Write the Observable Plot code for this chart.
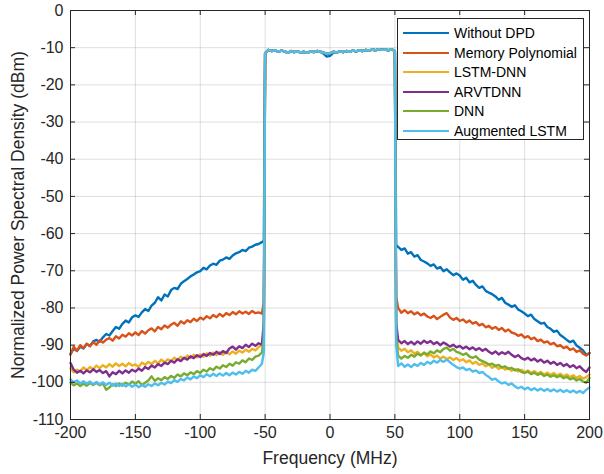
<!DOCTYPE html>
<html>
<head>
<meta charset="utf-8">
<script src="https://cdn.jsdelivr.net/npm/d3@7"></script>
<script src="https://cdn.jsdelivr.net/npm/@observablehq/plot@0.6"></script>
<style>
  body { margin: 0; background: #fff; }
  #wrap { position: relative; width: 604px; height: 474px; font-family: "Liberation Sans", Arial, Helvetica, sans-serif; }
  #legend { position: absolute; left: 397px; top: 18px; width: 187px; height: 122px; background: #fff; border: 1px solid #262626; box-sizing: border-box; }
  .row { position: absolute; left: 0; height: 20px; display: flex; align-items: center; font-size: 14px; color: #000; white-space: nowrap; }
  .swatch { display: inline-block; width: 46px; height: 2px; margin-left: 5px; margin-right: 5px; }
</style>
</head>
<body>
<div id="wrap"><div id="chart"></div><div id="legend"></div></div>
<script>
// ---- Data ----
const seriesNames = ["Without DPD", "Memory Polynomial", "LSTM-DNN", "ARVTDNN", "DNN", "Augmented LSTM"];
const seriesColors = ["#0072BD", "#D95319", "#EDB120", "#7E2F8E", "#77AC30", "#4DBEEE"];
const xTicks = [-200, -150, -100, -50, 0, 50, 100, 150, 200];
const yTicks = [0, -10, -20, -30, -40, -50, -60, -70, -80, -90, -100, -110];

// Sampling: left band -200..-52.5 (step 2.5), edge at -51, in-band -50..50 (step 2.5), edge at 51, right band 52.5..200 (step 2.5)
const leftStart = -200, bandStart = -50, rightStart = 52.5, step = 2.5, edgeLeftF = -51, edgeRightF = 51;

// shared in-band level (all curves overlap here)
const inBand = [-11.5,-10.6,-10.9,-10.7,-11.1,-10.8,-11.0,-11.4,-10.9,-11.2,-11.0,-11.3,-11.1,-11.4,-11.0,-11.2,-10.9,-11.1,-11.3,-11.6,-11.5,-11.1,-11.3,-11.0,-11.2,-10.9,-11.1,-10.8,-11.0,-10.7,-10.9,-10.6,-10.8,-10.5,-10.7,-10.4,-10.6,-10.5,-10.7,-10.4,-10.9];
const inBandWithoutDPD = [-11.5,-10.6,-10.9,-10.7,-11.1,-10.8,-11.0,-11.4,-10.9,-11.2,-11.0,-11.3,-11.1,-11.4,-11.0,-11.2,-10.9,-11.1,-11.6,-12.4,-12.2,-11.4,-11.3,-11.0,-11.2,-10.9,-11.1,-10.8,-11.0,-10.7,-10.9,-10.6,-10.8,-10.5,-10.7,-10.4,-10.6,-10.5,-10.7,-10.4,-10.9];

const withoutDpdLeft = [-92.3,-91.0,-91.6,-90.4,-90.9,-89.7,-90.2,-89.0,-88.6,-89.1,-87.9,-87.0,-87.4,-86.2,-85.1,-85.6,-84.3,-83.4,-83.9,-82.5,-82.0,-82.4,-81.2,-80.3,-80.8,-79.4,-78.6,-77.1,-78.0,-76.4,-76.9,-75.2,-74.6,-74.9,-73.5,-72.8,-72.2,-71.5,-71.0,-70.4,-70.1,-69.2,-69.6,-68.6,-68.1,-68.4,-67.3,-67.0,-66.4,-66.8,-65.9,-65.3,-65.0,-64.4,-64.7,-63.8,-63.5,-63.0,-62.8,-62.3];
const withoutDpdRight = [-63.6,-64.4,-64.0,-65.4,-65.0,-66.2,-65.8,-67.1,-67.5,-68.0,-68.7,-68.3,-69.4,-69.0,-70.1,-69.6,-70.4,-71.2,-70.7,-71.3,-72.4,-71.9,-73.1,-72.7,-73.8,-74.6,-74.2,-75.4,-75.9,-76.3,-76.9,-77.8,-77.3,-78.6,-79.1,-79.7,-79.3,-80.4,-80.9,-81.5,-82.2,-81.8,-83.0,-83.6,-84.2,-84.0,-85.1,-85.6,-86.4,-86.1,-87.3,-87.9,-88.6,-89.2,-88.8,-90.1,-90.7,-91.4,-92.6,-92.1];
const withoutDpdEdges = [-62.0, -63.0];

const memPolyLeft = [-92.6,-90.4,-91.5,-90.0,-90.8,-89.6,-90.3,-89.2,-89.9,-88.7,-89.3,-88.5,-88.1,-88.8,-87.6,-88.2,-87.2,-87.7,-86.8,-87.4,-86.6,-87.3,-86.2,-86.9,-86.0,-85.5,-86.3,-85.1,-85.7,-84.7,-85.3,-84.5,-84.0,-84.8,-83.6,-84.2,-83.3,-83.8,-82.9,-83.5,-82.6,-83.1,-82.2,-82.8,-81.9,-82.5,-81.6,-82.3,-81.4,-81.9,-81.1,-81.7,-80.9,-81.5,-81.0,-81.6,-80.8,-81.4,-81.2,-81.5];
const memPolyRight = [-80.0,-81.3,-80.6,-81.4,-80.9,-81.7,-81.2,-82.0,-81.5,-82.3,-82.7,-82.1,-83.0,-82.4,-81.8,-81.4,-82.6,-83.2,-82.7,-83.5,-83.1,-83.9,-83.4,-84.2,-83.8,-84.7,-84.3,-85.2,-84.8,-85.6,-85.1,-85.9,-85.4,-86.3,-85.8,-86.6,-86.9,-87.5,-87.1,-88.0,-87.6,-88.4,-88.0,-88.9,-88.5,-89.3,-89.0,-89.8,-89.4,-90.3,-90.0,-90.8,-90.4,-91.3,-90.9,-91.8,-91.4,-92.3,-92.8,-92.2];
const memPolyEdges = [-78.5, -77.0];

const lstmDnnLeft = [-96.2,-97.3,-96.6,-97.1,-96.0,-96.7,-95.9,-96.5,-95.5,-96.2,-95.4,-96.0,-95.1,-95.8,-94.9,-95.6,-95.0,-95.7,-94.8,-95.5,-95.2,-95.9,-94.7,-95.3,-94.5,-95.1,-94.2,-94.9,-93.9,-94.6,-93.8,-94.3,-93.4,-94.0,-93.1,-93.7,-92.8,-93.5,-92.6,-93.3,-92.5,-93.1,-92.2,-92.9,-92.0,-92.7,-91.9,-92.6,-91.8,-92.5,-91.7,-92.3,-91.5,-92.0,-91.2,-91.8,-91.0,-91.4,-90.5,-90.0];
const lstmDnnRight = [-90.6,-91.5,-91.0,-91.9,-91.4,-92.3,-91.8,-92.6,-92.1,-93.0,-92.5,-93.3,-92.8,-93.6,-93.1,-93.8,-93.3,-94.0,-93.5,-94.2,-93.8,-94.6,-94.1,-95.0,-94.5,-95.3,-94.9,-95.7,-95.2,-96.1,-95.6,-96.4,-95.9,-96.6,-96.1,-96.9,-96.4,-97.1,-96.6,-97.3,-96.8,-97.5,-97.0,-97.7,-97.2,-97.9,-97.4,-98.0,-97.5,-98.2,-97.7,-98.4,-97.9,-98.6,-98.1,-98.8,-98.3,-99.0,-98.6,-97.9];
const lstmDnnEdges = [-87.0, -85.0];

const arvtdnnLeft = [-94.8,-96.6,-97.4,-96.9,-97.6,-96.8,-97.3,-96.5,-97.2,-96.7,-97.5,-97.0,-98.4,-97.3,-97.8,-96.9,-97.6,-96.8,-97.4,-96.6,-97.1,-96.3,-96.9,-95.9,-96.4,-95.5,-96.0,-95.1,-95.6,-94.7,-95.1,-94.2,-94.7,-93.8,-94.3,-93.4,-93.9,-93.0,-93.5,-92.7,-93.2,-92.4,-92.9,-92.1,-92.6,-91.8,-92.4,-91.6,-92.1,-90.9,-90.4,-91.2,-90.3,-90.8,-89.9,-90.5,-89.6,-90.2,-89.5,-89.9];
const arvtdnnRight = [-88.6,-89.5,-88.9,-89.7,-89.1,-89.8,-89.0,-89.6,-88.8,-89.4,-88.9,-89.7,-89.2,-90.0,-89.3,-89.8,-90.4,-89.9,-90.6,-90.2,-90.9,-90.4,-91.1,-90.6,-91.3,-90.8,-91.5,-91.0,-91.8,-92.3,-91.7,-92.5,-91.9,-92.4,-91.8,-92.6,-93.2,-92.7,-93.5,-93.9,-93.4,-94.1,-93.6,-94.4,-93.9,-94.7,-94.2,-95.0,-94.5,-95.3,-94.8,-95.6,-95.1,-95.9,-95.4,-96.2,-95.7,-96.6,-97.2,-96.0];
const arvtdnnEdges = [-84.0, -84.0];

const dnnLeft = [-100.0,-100.8,-100.3,-101.0,-100.4,-100.9,-100.2,-100.7,-100.1,-100.8,-100.3,-102.0,-101.4,-100.5,-101.0,-100.3,-100.9,-100.1,-100.6,-99.8,-100.4,-99.7,-100.8,-100.1,-99.5,-98.4,-99.6,-98.9,-99.4,-98.6,-99.1,-98.3,-98.8,-97.9,-98.4,-97.6,-98.1,-97.3,-97.8,-97.0,-97.5,-96.6,-97.1,-96.2,-96.7,-95.8,-96.3,-95.4,-95.9,-95.0,-95.5,-94.6,-95.0,-94.1,-94.6,-93.6,-94.0,-93.1,-92.8,-92.0];
const dnnRight = [-92.8,-93.6,-92.9,-93.4,-92.6,-93.1,-92.3,-92.8,-92.0,-92.5,-91.7,-92.2,-91.4,-91.9,-91.0,-90.7,-91.5,-91.0,-91.8,-92.1,-92.6,-92.2,-93.1,-93.4,-93.0,-93.9,-94.3,-94.7,-95.2,-95.0,-95.6,-95.3,-96.0,-95.7,-96.4,-96.1,-96.8,-96.5,-97.2,-97.5,-97.1,-97.8,-97.4,-98.0,-97.6,-98.3,-97.9,-98.5,-98.1,-98.6,-98.2,-98.9,-98.5,-99.2,-98.8,-99.5,-99.1,-99.8,-100.1,-98.8];
const dnnEdges = [-88.0, -88.0];

const augLstmLeft = [-99.2,-100.0,-99.5,-100.3,-99.7,-100.4,-99.8,-100.5,-99.9,-100.6,-100.0,-100.7,-100.1,-100.9,-100.3,-101.0,-100.4,-101.1,-100.5,-101.2,-100.6,-101.3,-100.7,-101.2,-100.5,-101.0,-100.3,-100.8,-100.1,-100.6,-99.8,-100.2,-99.4,-99.9,-99.1,-99.5,-98.7,-99.2,-98.4,-98.9,-98.1,-98.6,-97.8,-98.4,-97.7,-98.3,-97.6,-98.2,-97.5,-98.1,-97.4,-97.9,-97.2,-97.7,-96.9,-97.4,-96.6,-96.9,-96.0,-95.0];
const augLstmRight = [-95.6,-94.9,-95.8,-95.2,-95.9,-95.1,-95.6,-94.8,-95.3,-94.5,-95.0,-94.2,-94.7,-94.0,-94.5,-93.9,-94.6,-95.3,-95.9,-96.3,-96.0,-96.7,-96.4,-97.1,-96.8,-97.5,-97.2,-98.0,-98.6,-99.3,-99.0,-99.8,-100.3,-100.0,-100.7,-100.3,-101.1,-101.6,-101.2,-101.9,-101.4,-102.1,-101.6,-102.2,-101.7,-102.3,-101.8,-102.4,-101.9,-102.5,-102.0,-102.6,-102.1,-102.7,-102.2,-102.8,-102.3,-102.9,-102.0,-101.4];
const augLstmEdges = [-92.0, -90.0];

// ---- Build long table ----
function build(name, left, edges, band, right) {
  const rows = [];
  left.forEach((v, i) => rows.push({name, f: leftStart + step * i, v}));
  rows.push({name, f: edgeLeftF, v: edges[0]});
  band.forEach((v, i) => rows.push({name, f: bandStart + step * i, v}));
  rows.push({name, f: edgeRightF, v: edges[1]});
  right.forEach((v, i) => rows.push({name, f: rightStart + step * i, v}));
  return rows;
}
const data = [
  ...build(seriesNames[0], withoutDpdLeft, withoutDpdEdges, inBandWithoutDPD, withoutDpdRight),
  ...build(seriesNames[1], memPolyLeft, memPolyEdges, inBand, memPolyRight),
  ...build(seriesNames[2], lstmDnnLeft, lstmDnnEdges, inBand, lstmDnnRight),
  ...build(seriesNames[3], arvtdnnLeft, arvtdnnEdges, inBand, arvtdnnRight),
  ...build(seriesNames[4], dnnLeft, dnnEdges, inBand, dnnRight),
  ...build(seriesNames[5], augLstmLeft, augLstmEdges, inBand, augLstmRight)
];

// ---- Chart ----
const W = 604, H = 474, mL = 70, mR = 15, mT = 10, mB = 55;
const fw = W - mL - mR, fh = H - mT - mB, tl = 5;
const axisColor = "#262626";

const chart = Plot.plot({
  width: W, height: H,
  marginLeft: mL, marginRight: mR, marginTop: mT, marginBottom: mB,
  style: {fontFamily: '"Liberation Sans", Arial, Helvetica, sans-serif', fontSize: "16px", color: axisColor, background: "#fff"},
  x: {domain: [-200, 200], ticks: xTicks, label: null},
  y: {domain: [-110, 0], ticks: yTicks, label: null},
  color: {domain: seriesNames, range: seriesColors},
  marks: [
    Plot.gridX(xTicks, {stroke: axisColor, strokeOpacity: 0.15, strokeWidth: 1}),
    Plot.gridY(yTicks, {stroke: axisColor, strokeOpacity: 0.15, strokeWidth: 1}),
    Plot.lineY(data, {x: "f", y: "v", z: "name", stroke: "name", strokeWidth: 2.4, curve: "linear"}),
    // inward ticks on all four sides
    Plot.tickX(xTicks, {x: d => d, insetTop: fh - tl, stroke: axisColor}),
    Plot.tickX(xTicks, {x: d => d, insetBottom: fh - tl, stroke: axisColor}),
    Plot.tickY(yTicks, {y: d => d, insetRight: fw - tl, stroke: axisColor}),
    Plot.tickY(yTicks, {y: d => d, insetLeft: fw - tl, stroke: axisColor}),
    Plot.frame({stroke: axisColor, strokeWidth: 1}),
    Plot.axisX(xTicks, {tickSize: 0, tickPadding: 7, tickFormat: d => String(d), fontSize: 16, fill: axisColor,
      label: "Frequency (MHz)", labelAnchor: "center", labelOffset: 44, labelArrow: "none"}),
    Plot.axisY(yTicks, {tickSize: 0, tickPadding: 7, tickFormat: d => String(d), fontSize: 16, fill: axisColor,
      label: "Normalized Power Spectral Density (dBm)", labelAnchor: "center", labelOffset: 59, labelArrow: "none"})
  ]
});
document.getElementById("chart").appendChild(chart);

// axis label font size
chart.querySelectorAll("g[aria-label='x-axis label'] text, g[aria-label='y-axis label'] text").forEach(t => t.setAttribute("font-size", "17.5"));

// ---- Legend ----
const legend = document.getElementById("legend");
seriesNames.forEach((n, i) => {
  const row = document.createElement("div");
  row.className = "row";
  row.style.top = (4 + i * 19.6) + "px";
  const sw = document.createElement("span");
  sw.className = "swatch";
  sw.style.background = seriesColors[i];
  const tx = document.createElement("span");
  tx.textContent = n;
  row.appendChild(sw); row.appendChild(tx);
  legend.appendChild(row);
});
</script>
</body>
</html>
